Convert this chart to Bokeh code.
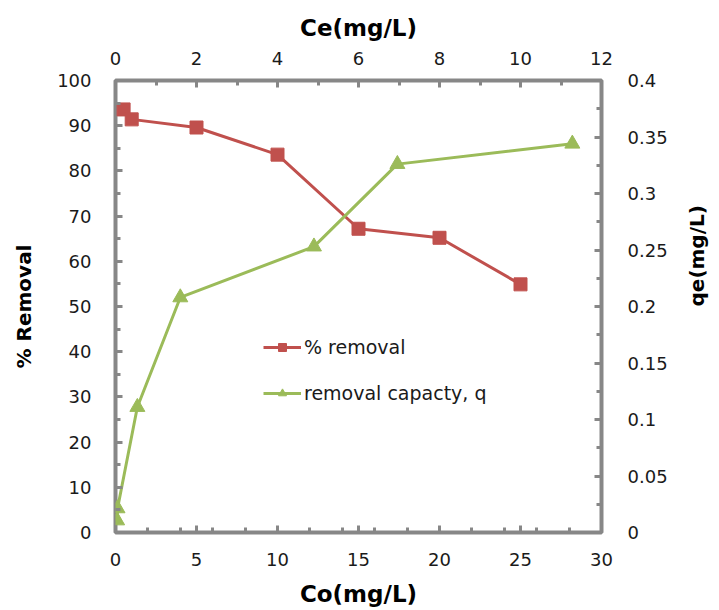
import math
from bokeh.plotting import figure
from bokeh.models import Range1d, LinearAxis, FixedTicker, Legend, LegendItem
from bokeh.embed import file_html
from bokeh.resources import INLINE

# data
co = [0.5, 1, 5, 10, 15, 20, 25]
removal = [93.6, 91.4, 89.6, 83.6, 67.2, 65.2, 54.9]
ce = [0.04, 0.05, 0.54, 1.6, 4.9, 6.96, 11.28]
qe = [0.0106, 0.0213, 0.111, 0.208, 0.253, 0.326, 0.344]

co_ticks = [0, 5, 10, 15, 20, 25, 30]
removal_ticks = [0, 10, 20, 30, 40, 50, 60, 70, 80, 90, 100]
ce_ticks = [0, 2, 4, 6, 8, 10, 12]
qe_ticks = [0, 0.05, 0.1, 0.15, 0.2, 0.25, 0.3, 0.35, 0.4]
qe_labels = ["0", "0.05", "0.1", "0.15", "0.2", "0.25", "0.3", "0.35", "0.4"]

RED = "#C0504D"
GREEN = "#9BBB59"
GREY = "#878787"
TXT = "#1a1a1a"

p = figure(width=719, height=610, frame_width=486, frame_height=452,
           x_range=Range1d(0, 30), y_range=Range1d(0, 100),
           output_backend="svg", toolbar_location=None,
           min_border_left=115, min_border_right=118,
           min_border_top=80, min_border_bottom=78)
p.extra_x_ranges = {"ce": Range1d(0, 12)}
p.extra_y_ranges = {"qe": Range1d(0, 0.4)}

p.xgrid.visible = False
p.ygrid.visible = False
p.outline_line_color = GREY
p.outline_line_width = 4
p.background_fill_color = "white"
p.border_fill_color = "white"

bottom_ax = p.below[0]
left_ax = p.left[0]
top_ax = LinearAxis(x_range_name="ce")
right_ax = LinearAxis(y_range_name="qe")
p.add_layout(top_ax, "above")
p.add_layout(right_ax, "right")

bottom_ax.ticker = FixedTicker(ticks=co_ticks, minor_ticks=[2, 4, 6, 8, 12, 14, 16, 18, 22, 24, 26, 28])
left_ax.ticker = FixedTicker(ticks=removal_ticks, minor_ticks=[5, 15, 25, 35, 45, 55, 65, 75, 85, 95])
top_ax.ticker = FixedTicker(ticks=ce_ticks, minor_ticks=[1, 3, 5, 7, 9, 11])
right_ax.ticker = FixedTicker(ticks=qe_ticks, minor_ticks=[0.025, 0.075, 0.125, 0.175, 0.225, 0.275, 0.325, 0.375])
right_ax.major_label_overrides = {t: l for t, l in zip(qe_ticks, qe_labels)}

for ax in (bottom_ax, left_ax, top_ax, right_ax):
    ax.axis_line_color = None
    ax.major_tick_in = 7
    ax.major_tick_out = 0
    ax.minor_tick_in = 5
    ax.minor_tick_out = 0
    ax.major_tick_line_color = GREY
    ax.minor_tick_line_color = GREY
    ax.major_tick_line_width = 3
    ax.minor_tick_line_width = 3
    ax.major_label_text_font = "DejaVu Sans"
    ax.major_label_text_font_size = "18px"
    ax.major_label_text_color = TXT
    ax.axis_label_text_font = "DejaVu Sans"
    ax.axis_label_text_font_style = "bold"
    ax.axis_label_text_color = "black"

bottom_ax.axis_label = "Co(mg/L)"
top_ax.axis_label = "Ce(mg/L)"
left_ax.axis_label = "% Removal"
right_ax.axis_label = "qe(mg/L)"
right_ax.axis_label_orientation = math.pi / 2
bottom_ax.axis_label_text_font_size = "23px"
top_ax.axis_label_text_font_size = "23px"
left_ax.axis_label_text_font_size = "20px"
right_ax.axis_label_text_font_size = "20px"

bottom_ax.major_label_standoff = 20
top_ax.major_label_standoff = 16
left_ax.major_label_standoff = 24
right_ax.major_label_standoff = 26
bottom_ax.axis_label_standoff = 12
top_ax.axis_label_standoff = 8
left_ax.axis_label_standoff = 18
right_ax.axis_label_standoff = 26

r_line = p.line(co, removal, line_color=RED, line_width=3)
r_pts = p.scatter(co, removal, marker="square", size=13, fill_color=RED, line_color=RED)
g_line = p.line(ce, qe, line_color=GREEN, line_width=3, x_range_name="ce", y_range_name="qe")
g_pts = p.scatter(ce, qe, marker="triangle", size=15, fill_color=GREEN, line_color=GREEN,
                  x_range_name="ce", y_range_name="qe")

legend = Legend(items=[LegendItem(label="% removal", renderers=[r_line, r_pts]),
                       LegendItem(label="removal capacty, q", renderers=[g_line, g_pts])],
                location=(148, 128), orientation="vertical",
                border_line_color=None, background_fill_alpha=0,
                padding=0, margin=0, spacing=24,
                glyph_width=38, glyph_height=20, label_height=20,
                label_standoff=3,
                label_text_font="DejaVu Sans", label_text_font_size="19px",
                label_text_color=TXT)
p.add_layout(legend, "center")

open("out.html", "w").write(file_html(p, INLINE))
